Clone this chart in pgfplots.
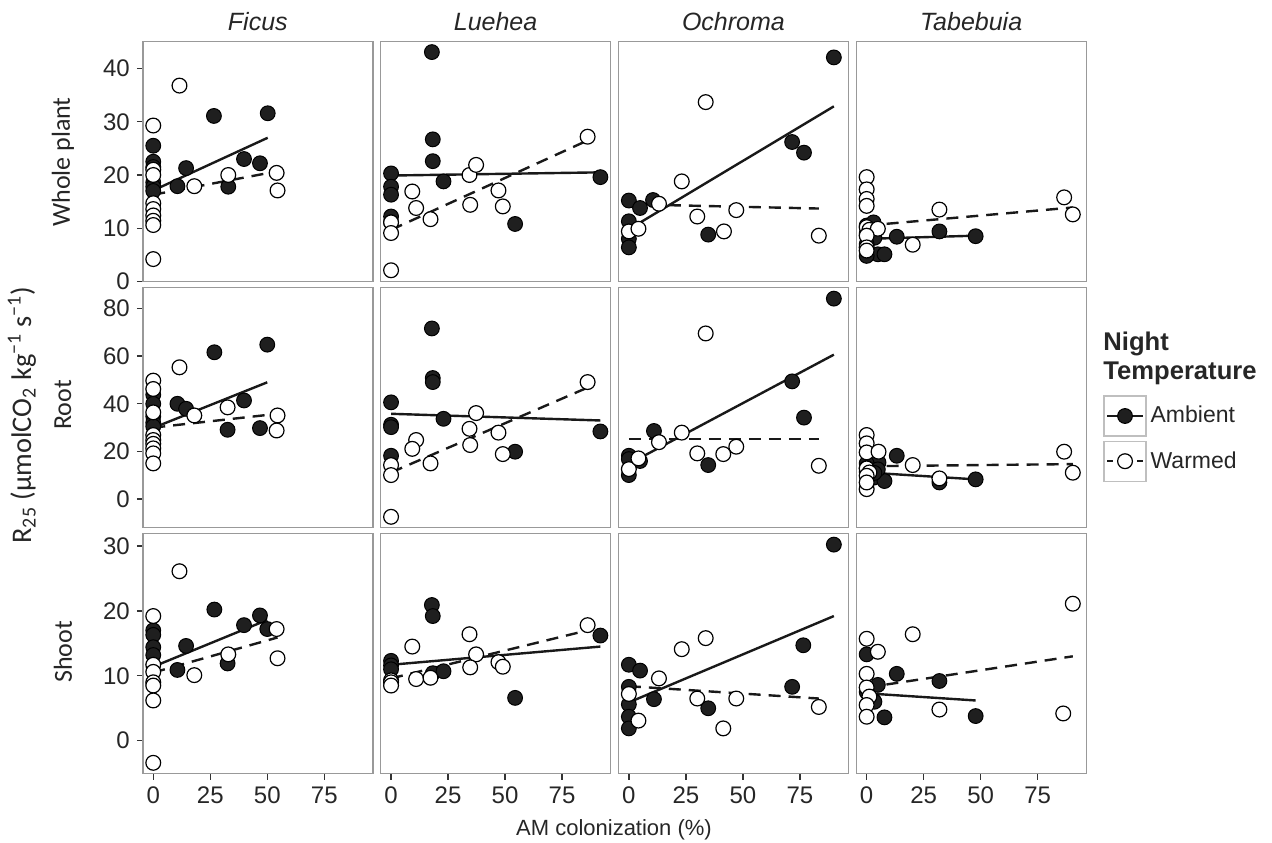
\documentclass[border=0pt]{standalone}
\usepackage{fontspec}
\setmainfont{Liberation Sans}
\newfontfamily\lab{Carlito}
\usepackage{pgfplots}
\pgfplotsset{compat=1.18}
\pgfplotsset{
  panel/.style={
    scale only axis, width=115pt, height=120pt,
    xmin=-4.585, xmax=96.285,
    axis line style={draw=black!40, line width=0.7pt},
    tick align=outside, major tick length=3pt,
    every tick/.style={black!80, line width=0.7pt},
    xtick pos=left, ytick pos=left,
    xtick={0,25,50,75},
    /pgf/number format/assume math mode=true,
    ticklabel style={font=\fontsize{12}{14}\selectfont, text=black!85},
  },
  r1/.style={ymin=-0.05, ymax=45.05, ytick={0,10,20,30,40}},
  r2/.style={ymin=-11.98, ymax=88.68, ytick={0,20,40,60,80}},
  r3/.style={ymin=-5.08, ymax=31.88, ytick={0,10,20,30}},
  noy/.style={yticklabels={}, ytick=\empty},
  nox/.style={xticklabels={}, xtick=\empty},
  amb/.style={only marks, mark=*, mark size=3.7pt, mark options={fill=black!88, draw=black, line width=0.5pt}},
  warm/.style={only marks, mark=*, mark size=3.7pt, mark options={fill=white, draw=black, line width=0.6pt}},
  lamb/.style={black!90, line width=1.2pt, no marks},
  lwarm/.style={black!90, line width=1.2pt, no marks, dash pattern=on 6pt off 4pt},
}
\begin{document}
\begin{tikzpicture}
\path[use as bounding box] (0,0) rectangle (636pt,-421pt);
% ---------- Row 1: Whole plant ----------
\begin{axis}[panel, r1, nox, at={(71.4pt,-20.85pt)}, anchor=north west]
\addplot[lamb] coordinates {(0,17.1)(50.2,27.0)};
\addplot[lwarm] coordinates {(0,16.3)(54.5,20.7)};
\addplot[amb] coordinates {(0,25.5)(0,22.5)(0,21.5)(0,18.6)(0,17.8)(0,17.0)(10.6,17.9)(14.4,21.3)(26.6,31.1)(32.9,17.8)(39.8,23.0)(46.8,22.2)(50.2,31.6)};
\addplot[warm] coordinates {(0,29.3)(0,21.0)(0,20.0)(0,14.7)(0,13.6)(0,12.4)(0,11.4)(0,10.6)(0,4.2)(11.5,36.8)(18.0,17.9)(32.9,20.0)(54.1,20.4)(54.5,17.1)};
\end{axis}
\begin{axis}[panel, r1, nox, noy, at={(190.3pt,-20.85pt)}, anchor=north west]
\addplot[lamb] coordinates {(0,19.9)(91.8,20.5)};
\addplot[lwarm] coordinates {(0,9.7)(86.2,26.5)};
\addplot[amb] coordinates {(0,20.3)(0,17.8)(0,16.3)(0,12.2)(0,11.1)(17.9,43.1)(18.3,26.7)(18.3,22.6)(23.0,18.8)(54.4,10.8)(91.8,19.6)};
\addplot[warm] coordinates {(0,11.1)(0,9.1)(0,2.1)(9.3,16.9)(11.0,13.8)(17.3,11.7)(34.4,20.0)(37.3,21.9)(34.7,14.4)(47.1,17.1)(49.0,14.1)(86.2,27.2)};
\end{axis}
\begin{axis}[panel, r1, nox, noy, at={(309.2pt,-20.85pt)}, anchor=north west]
\addplot[lamb] coordinates {(0,9.8)(89.9,32.9)};
\addplot[lwarm] coordinates {(0,14.5)(83.3,13.7)};
\addplot[amb] coordinates {(89.9,42.1)(71.6,26.2)(76.8,24.2)(0,15.2)(4.9,13.8)(10.6,15.3)(0,11.3)(0,8.0)(0,6.4)(34.8,8.8)};
\addplot[warm] coordinates {(33.7,33.7)(23.2,18.8)(13.2,14.6)(30.0,12.2)(47.1,13.4)(41.7,9.4)(83.3,8.6)(0,9.4)(4.2,9.9)};
\end{axis}
\begin{axis}[panel, r1, nox, noy, at={(428.1pt,-20.85pt)}, anchor=north west]
\addplot[lamb] coordinates {(0,8.0)(47.8,8.6)};
\addplot[lwarm] coordinates {(0,10.5)(90.4,13.9)};
\addplot[amb] coordinates {(0,10.5)(3.0,11.1)(3.4,8.2)(13.2,8.4)(31.9,9.4)(47.8,8.5)(4.9,5.1)(7.8,5.1)(0,4.8)(0,7.0)(0,9.0)};
\addplot[warm] coordinates {(0,19.6)(0,17.3)(0,15.5)(0,14.2)(0,10.2)(1.2,9.7)(4.9,9.9)(0,8.6)(0,6.4)(0,5.8)(20.2,6.9)(31.9,13.5)(86.6,15.8)(90.4,12.6)};
\end{axis}
% ---------- Row 2: Root ----------
\begin{axis}[panel, r2, nox, at={(71.4pt,-143.85pt)}, anchor=north west]
\addplot[lamb] coordinates {(0,29.9)(50.0,49.0)};
\addplot[lwarm] coordinates {(0,30.0)(54.5,35.8)};
\addplot[amb] coordinates {(50.0,64.8)(26.8,61.6)(10.6,40.0)(14.4,37.9)(39.8,41.4)(32.6,29.1)(46.8,29.8)(0,43.8)(0,40.0)(0,34.7)(0,32.1)(0,30.5)};
\addplot[warm] coordinates {(0,49.7)(0,46.2)(0,36.4)(0,26.9)(0,24.8)(0,23.2)(0,21.3)(0,19.2)(0,15.0)(11.5,55.3)(18.0,35.1)(32.6,38.5)(54.5,35.1)(54.1,28.8)};
\end{axis}
\begin{axis}[panel, r2, nox, noy, at={(190.3pt,-143.85pt)}, anchor=north west]
\addplot[lamb] coordinates {(0,35.8)(91.8,33.0)};
\addplot[lwarm] coordinates {(0,11.2)(86.2,46.8)};
\addplot[amb] coordinates {(17.9,71.6)(18.3,50.8)(18.3,49.1)(0,40.6)(0,31.2)(0,30.2)(0,18.2)(23.0,33.7)(54.4,19.9)(91.8,28.4)};
\addplot[warm] coordinates {(0,14.3)(0,10.1)(0,-7.4)(11.0,24.8)(9.3,21.1)(17.3,15.0)(34.4,29.5)(37.3,36.1)(34.7,22.7)(47.1,27.9)(49.0,18.9)(86.2,49.1)};
\end{axis}
\begin{axis}[panel, r2, nox, noy, at={(309.2pt,-143.85pt)}, anchor=north west]
\addplot[lamb] coordinates {(0,14.8)(89.9,60.6)};
\addplot[lwarm] coordinates {(0,25.3)(83.3,25.3)};
\addplot[amb] coordinates {(89.9,84.1)(71.6,49.4)(76.8,34.2)(11.0,28.6)(0,18.2)(0,16.8)(0,10.1)(4.9,16.0)(34.8,14.3)};
\addplot[warm] coordinates {(33.7,69.5)(23.2,27.9)(13.2,23.9)(30.0,19.2)(41.4,18.9)(47.1,22.0)(83.3,14.0)(0,12.6)(4.2,17.1)};
\end{axis}
\begin{axis}[panel, r2, nox, noy, at={(428.1pt,-143.85pt)}, anchor=north west,
  legend style={at={(1.073,0.553)}, anchor=north west, draw=none, fill=none,
    inner sep=0pt, row sep=2pt, font=\fontsize{11.5}{13}\selectfont,
    nodes={inner sep=2pt, text=black!85}},
  legend cell align=left,
  legend image code/.code={
    \draw[solid, draw=black!25, line width=0.6pt, fill=white] (0pt,-10pt) rectangle (21pt,10pt);
    \draw[mark repeat=2, mark phase=2, #1] plot coordinates {(1.5pt,0pt) (10.5pt,0pt) (19.5pt,0pt)};
  }]
\addlegendimage{black!90, line width=1.2pt, mark=*, mark size=3.7pt, mark options={solid, fill=black!88, draw=black, line width=0.5pt}}
\addlegendentry{Ambient}
\addlegendimage{black!90, line width=1.2pt, dash pattern=on 3pt off 2pt, mark=*, mark size=3.7pt, mark options={solid, fill=white, draw=black, line width=0.6pt}}
\addlegendentry{Warmed}
\addplot[lamb, forget plot] coordinates {(0,11.2)(47.8,8.3)};
\addplot[lwarm, forget plot] coordinates {(0,13.8)(90.4,14.7)};
\addplot[amb, forget plot] coordinates {(13.2,18.2)(5.2,15.4)(0,15.0)(0,11.5)(3.0,9.0)(7.8,7.6)(31.9,7.0)(47.8,8.3)(0,13.0)(4.9,12.5)(3.4,11.0)};
\addplot[warm, forget plot] coordinates {(0,26.9)(0,23.4)(0,19.6)(5.2,19.9)(20.2,14.3)(0,12.9)(1.2,11.2)(0,9.8)(0,4.2)(31.9,8.7)(86.6,19.9)(90.4,11.1)(0,7.0)};
\end{axis}
% ---------- Row 3: Shoot ----------
\begin{axis}[panel, r3, at={(71.4pt,-266.85pt)}, anchor=north west]
\addplot[lamb] coordinates {(0,11.4)(50.0,18.6)};
\addplot[lwarm] coordinates {(0,10.5)(54.5,15.9)};
\addplot[amb] coordinates {(0,17.0)(0,16.3)(0,14.4)(0,13.2)(10.6,10.9)(14.4,14.6)(26.8,20.2)(32.6,11.9)(39.8,17.8)(46.8,19.3)(50.0,17.2)};
\addplot[warm] coordinates {(0,19.2)(0,11.7)(0,10.6)(0,9.0)(0,8.5)(0,6.2)(0,-3.4)(11.5,26.1)(18.0,10.1)(32.9,13.3)(54.1,17.2)(54.5,12.7)};
\end{axis}
\begin{axis}[panel, r3, noy, at={(190.3pt,-266.85pt)}, anchor=north west]
\addplot[lamb] coordinates {(0,11.7)(91.8,14.5)};
\addplot[lwarm] coordinates {(0,9.6)(86.2,17.0)};
\addplot[amb] coordinates {(17.9,20.9)(18.3,19.2)(0,12.3)(0,11.6)(0,11.0)(18.3,10.4)(23.0,10.7)(54.4,6.6)(91.8,16.2)};
\addplot[warm] coordinates {(0,9.3)(0,9.0)(0,8.5)(9.3,14.5)(11.0,9.5)(17.3,9.7)(34.4,16.4)(37.3,13.3)(34.7,11.3)(47.1,12.1)(49.0,11.4)(86.2,17.8)};
\end{axis}
\begin{axis}[panel, r3, noy, at={(309.2pt,-266.85pt)}, anchor=north west]
\addplot[lamb] coordinates {(0,5.9)(89.9,19.2)};
\addplot[lwarm] coordinates {(0,8.4)(83.3,6.5)};
\addplot[amb] coordinates {(89.9,30.2)(76.5,14.7)(71.6,8.3)(0,11.7)(4.9,10.8)(0,8.3)(0,5.6)(0,3.7)(0,1.9)(11.0,6.4)(34.8,5.0)};
\addplot[warm] coordinates {(33.7,15.8)(23.2,14.1)(13.2,9.6)(30.0,6.5)(47.1,6.5)(41.4,1.9)(83.3,5.2)(0,7.2)(4.2,3.1)};
\end{axis}
\begin{axis}[panel, r3, noy, at={(428.1pt,-266.85pt)}, anchor=north west]
\addplot[lamb] coordinates {(0,7.3)(47.8,6.2)};
\addplot[lwarm] coordinates {(0,8.2)(90.4,13.0)};
\addplot[amb] coordinates {(0,13.3)(4.9,8.6)(13.2,10.3)(31.9,9.2)(3.0,6.2)(7.8,3.6)(47.8,3.8)(0,7.5)(3.4,6.0)};
\addplot[warm] coordinates {(0,15.7)(4.9,13.7)(20.2,16.4)(0,10.3)(0,8.2)(1.2,6.8)(0,5.5)(0,3.7)(31.9,4.8)(86.2,4.2)(90.4,21.1)};
\end{axis}
% ---------- Labels ----------
\begin{scope}[every node/.style={text=black!85}]
\node[font=\fontsize{12.5}{14}\selectfont\itshape] at (128.9pt,-11pt) {Ficus};
\node[font=\fontsize{12.5}{14}\selectfont\itshape] at (247.8pt,-11pt) {Luehea};
\node[font=\fontsize{12.5}{14}\selectfont\itshape] at (366.7pt,-11pt) {Ochroma};
\node[font=\fontsize{12.5}{14}\selectfont\itshape] at (485.6pt,-11pt) {Tabebuia};
\node[font=\lab\fontsize{13}{15}\selectfont, rotate=90] at (31.5pt,-81pt) {Whole plant};
\node[font=\lab\fontsize{13}{15}\selectfont, rotate=90] at (31.5pt,-202.5pt) {Root};
\node[font=\lab\fontsize{13}{15}\selectfont, rotate=90] at (31.5pt,-326pt) {Shoot};
\node[font=\lab\fontsize{14.2}{16}\selectfont, rotate=90] at (11pt,-207.5pt) {R\textsubscript{25} (µmolCO\textsubscript{2} kg\textsuperscript{−1} s\textsuperscript{−1})};
\node[font=\fontsize{11}{13}\selectfont] at (307pt,-415pt) {AM colonization (\%)};
\node[font=\fontsize{12.8}{14.5}\selectfont\bfseries, anchor=north west, align=left, inner sep=0pt] at (551.5pt,-166pt) {Night\\Temperature};
\end{scope}
\end{tikzpicture}
\end{document}
